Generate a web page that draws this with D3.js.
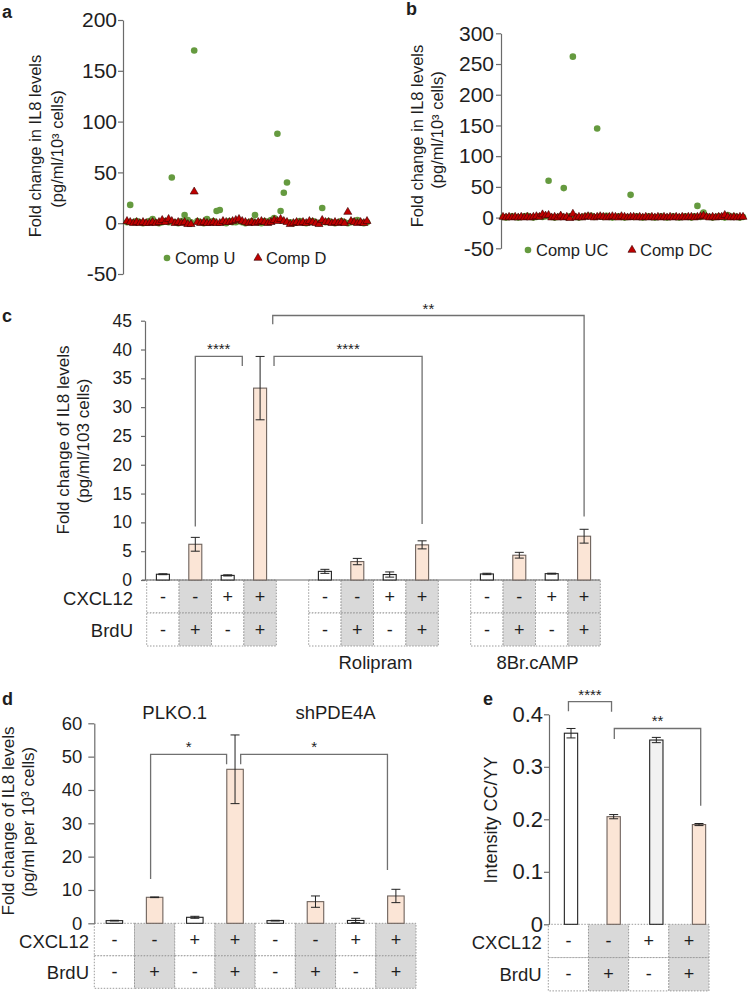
<!DOCTYPE html>
<html><head><meta charset="utf-8">
<script src="https://cdn.jsdelivr.net/npm/d3@7"></script>
<style>
body{margin:0;background:#fff;}
svg text{font-family:"Liberation Sans",Arial,Helvetica,sans-serif;fill:#1e1e1e;}
</style></head><body>
<script>
// ---------- DATA ----------
// Panel a (scatter, Comp U / Comp D)
const aTicks=[-50,0,50,100,150,200];
const aCompU=[1,18,1,2,1,0,1,2,4,1,0,1,2,1,45,1,0,2,8,3,1,170,2,1,0,4,1,2,12,13,1,0,2,1,1,2,1,0,1,2,8,1,0,2,1,3,5,88,12,30,40,1,0,1,2,1,0,1,2,1,0,15,1,2,1,0,1,2,1,0,1,2,3,1,0,1];
const aCompD=[2,1,0,1,0,1,0,0,1,0,1,3,1,4,2,0,1,0,1,-1,-1,31,1,0,1,0,0,1,0,0,2,1,1,2,3,4,2,1,0,1,0,1,2,1,0,1,3,2,4,2,1,-1,0,1,0,1,0,2,1,0,-1,3,1,1,0,1,0,1,0,11,2,1,0,1,0,2];
const aLegend=["Comp U","Comp D"];
// Panel b
const bTicks=[-50,0,50,100,150,200,250,300];
const bCompU=[1,0,1,2,1,0,1,2,3,1,0,1,2,1,2,60,1,0,1,2,48,1,2,262,1,0,1,2,3,3,1,145,2,1,3,1,0,1,2,1,0,1,37,1,2,1,0,1,2,1,0,1,2,1,0,1,2,1,0,1,2,1,0,2,19,1,8,2,1,0,1,2,1,0,4,1,2,1,0,1];
const bCompD=[1,0,1,0,1,0,1,0,1,0,1,2,1,5,3,4,0,1,0,3,0,1,-1,6,0,1,0,1,2,1,0,1,2,1,0,1,2,1,0,2,1,0,1,1,0,1,0,1,0,1,0,1,0,1,0,1,0,1,0,1,0,1,1,0,1,2,3,1,0,1,0,1,1,4,1,0,1,0,1,1];
const bLegend=["Comp UC","Comp DC"];
// Panel c
const cTicks=[0,5,10,15,20,25,30,35,40,45];
const cValues=[1.0,6.2,0.8,33.3, 1.5,3.2,0.95,6.1, 1.05,4.3,1.1,7.6];
const cErrors=[0.08,1.2,0.1,5.5, 0.35,0.55,0.45,0.7, 0.12,0.5,0.08,1.2];
const cCXCL12=["-","-","+","+","-","-","+","+","-","-","+","+"];
const cBrdU=["-","+","-","+","-","+","-","+","-","+","-","+"];
const cGroups=["","Rolipram","8Br.cAMP"];
const cSig=[
  {x1:1.5,y1:9.3,top:38.8,x2:2.95,y2:37.15,label:"****"},
  {x1:3.93,y1:37.15,top:38.8,x2:8.5,y2:9.7,label:"****"},
  {x1:3.89,y1:44.4,top:45.9,x2:13.5,y2:11.0,label:"**"}
];
// Panel d
const dTicks=[0,10,20,30,40,50,60];
const dValues=[0.8,7.8,1.8,46.2,0.8,6.5,0.85,8.2];
const dErrors=[0.1,0.1,0.3,10.3,0.1,1.7,0.65,2.0];
const dCXCL12=["-","-","+","+","-","-","+","+"];
const dBrdU=["-","+","-","+","-","+","-","+"];
const dGroups=["PLKO.1","shPDE4A"];
const dSig=[
  {x1:1.40,y1:13.3,top:50.7,x2:3.29,y2:47.7,label:"*"},
  {x1:3.64,y1:47.7,top:50.7,x2:7.29,y2:16.0,label:"*"}
];
// Panel e
const eTicks=[0,0.1,0.2,0.3,0.4];
const eValues=[0.364,0.205,0.351,0.190];
const eErrors=[0.009,0.004,0.005,0.002];
const eCXCL12=["-","-","+","+"];
const eBrdU=["-","+","-","+"];
const eSig=[
  {x1:-0.06,y1:0.406,top:0.424,x2:0.95,y2:0.405,label:"****"},
  {x1:1.015,y1:0.353,top:0.373,x2:3.04,y2:0.226,label:"**"}
];

// ---------- STYLE ----------
const GREEN="#659A3F", RED="#C00000", ORANGE="#FBE5D6", SHADE="#D9D9D9", AXIS="#6b6b6b";
const svg=d3.select("body").append("svg").attr("width",750).attr("height",994);

function letter(x,y,t){svg.append("text").attr("x",x).attr("y",y).attr("font-size",18).attr("font-weight","bold").attr("fill","#000").text(t);}
function vlabel(x,y,t,fs){svg.append("text").attr("transform",`translate(${x},${y}) rotate(-90)`).attr("text-anchor","middle").attr("font-size",fs).text(t);}
function yAxis(x,scale,ticks,fs,len,pad,fmt){
  const g=svg.append("g").attr("transform",`translate(${x},0)`)
    .call(d3.axisLeft(scale).tickValues(ticks).tickSize(len).tickSizeOuter(0).tickPadding(pad).tickFormat(fmt||(d=>d)));
  g.select(".domain").attr("stroke",AXIS).attr("stroke-width",1.2);
  g.selectAll(".tick line").attr("stroke",AXIS).attr("stroke-width",1.2);
  g.selectAll(".tick text").attr("font-size",fs).attr("fill","#333");
  return g;
}
const tri=d3.symbol().type(d3.symbolTriangle).size(28);

function scatterPanel(U,D,yscale,xr,legend,leg){
  const x=d3.scaleLinear().domain([0,U.length-1]).range(xr);
  svg.append("g").selectAll("circle").data(U).join("circle")
    .attr("cx",(d,i)=>x(i)).attr("cy",d=>yscale(d)).attr("r",3.3).attr("fill",GREEN);
  svg.append("g").selectAll("path").data(D).join("path")
    .attr("d",tri).attr("transform",(d,i)=>`translate(${x(i)},${yscale(d)})`)
    .attr("fill",RED).attr("stroke","#3a0000").attr("stroke-width",0.6);
  svg.append("circle").attr("cx",leg[0]).attr("cy",leg[2]).attr("r",3.3).attr("fill",GREEN);
  svg.append("text").attr("x",leg[0]+8).attr("y",leg[2]+6).attr("font-size",16.5).text(legend[0]);
  svg.append("path").attr("d",tri).attr("transform",`translate(${leg[1]},${leg[2]})`).attr("fill",RED).attr("stroke","#3a0000").attr("stroke-width",0.6);
  svg.append("text").attr("x",leg[1]+8).attr("y",leg[2]+6).attr("font-size",16.5).text(legend[1]);
}

// ---------- PANEL A ----------
letter(2,18,"a");
const aY=d3.scaleLinear().domain([-50,200]).range([274,20]);
yAxis(123,aY,aTicks,21,5,1);
vlabel(41,146,"Fold change in IL8 levels",16.5);
vlabel(63,149,"(pg/ml/10³ cells)",16.5);
scatterPanel(aCompU,aCompD,aY,[127,367],aLegend,[167,258,258]);

// ---------- PANEL B ----------
letter(406,15,"b");
const bY=d3.scaleLinear().domain([-50,300]).range([248.3,33.3]);
yAxis(501,bY,bTicks,21,5,2);
vlabel(423,136,"Fold change in IL8 levels",16.5);
vlabel(443,130,"(pg/ml/10³ cells)",16.5);
scatterPanel(bCompU,bCompD,bY,[503,743],bLegend,[528,632,250]);

// ---------- shared bar helpers ----------
function bars(xc,yscale,vals,errs,w,fillFn,strokeFn){
  const g=svg.append("g");
  g.selectAll("rect").data(vals).join("rect")
    .attr("x",(d,i)=>xc(i)-w/2).attr("y",d=>yscale(d)).attr("width",w)
    .attr("height",d=>yscale(0)-yscale(d)).attr("fill",(d,i)=>fillFn(i)).attr("stroke",(d,i)=>strokeFn(i)).attr("stroke-width",1.1);
  const eb=g.selectAll("g.eb").data(vals).join("g");
  eb.append("line").attr("x1",(d,i)=>xc(i)).attr("x2",(d,i)=>xc(i))
    .attr("y1",(d,i)=>yscale(d-errs[i])).attr("y2",(d,i)=>yscale(d+errs[i])).attr("stroke","#222");
  [1,-1].forEach(s=>eb.append("line").attr("x1",(d,i)=>xc(i)-4.5).attr("x2",(d,i)=>xc(i)+4.5)
    .attr("y1",(d,i)=>yscale(d+s*errs[i])).attr("y2",(d,i)=>yscale(d+s*errs[i])).attr("stroke","#222"));
}
function sigs(list,xs,ys,fs){
  list.forEach(s=>{
    svg.append("path").attr("d",`M${xs(s.x1)},${ys(s.y1)}V${ys(s.top)}H${xs(s.x2)}V${ys(s.y2)}`)
      .attr("fill","none").attr("stroke","#707070").attr("stroke-width",1.3);
    svg.append("text").attr("x",(xs(s.x1)+xs(s.x2))/2).attr("y",ys(s.top)-2).attr("text-anchor","middle")
      .attr("font-size",fs).text(s.label);
  });
}
function tableCells(xLeft,cellW,y0,rowH,cx,br,labelFs){
  const g=svg.append("g");
  [cx,br].forEach((row,r)=>{
    row.forEach((v,i)=>{
      g.append("rect").attr("x",xLeft(i)).attr("y",y0+r*rowH).attr("width",cellW).attr("height",rowH)
        .attr("fill",br[i]==="+"?SHADE:"#fff").attr("stroke","#9a9a9a").attr("stroke-width",1).attr("stroke-dasharray","1.5,1.5");
      g.append("text").attr("x",xLeft(i)+cellW/2).attr("y",y0+r*rowH+rowH/2+6).attr("text-anchor","middle")
        .attr("font-size",labelFs).text(v==="-"?"-":"+");
    });
  });
}
function rowLabels(xr,y0,rowH){
  svg.append("text").attr("x",xr).attr("y",y0+rowH/2+8).attr("text-anchor","end").attr("font-size",18.5).text("CXCL12");
  svg.append("text").attr("x",xr).attr("y",y0+rowH*1.5+7).attr("text-anchor","end").attr("font-size",18.5).text("BrdU");
}

// ---------- PANEL C ----------
letter(2,322,"c");
const cY=d3.scaleLinear().domain([0,45]).range([580,320.7]);
const cSlot=d3.scaleLinear().domain([0,14]).range([146.7,600.3]);
const cStep=cSlot(1)-cSlot(0);
const cSlotOf=i=>i+Math.floor(i/4);
const cX=i=>cSlot(cSlotOf(i)+0.5);
tableCells(i=>cSlot(cSlotOf(i)),cStep,580,33,cCXCL12,cBrdU,18);
svg.append("line").attr("x1",142).attr("x2",600.3).attr("y1",580).attr("y2",580).attr("stroke",AXIS).attr("stroke-width",1.2);
yAxis(145,cY,cTicks,17.5,4,9);
vlabel(69,440,"Fold change of IL8 levels",17);
vlabel(89,441,"(pg/ml/103 cells)",17);
bars(cX,cY,cValues,cErrors,13,i=>cBrdU[i]==="+"?ORANGE:"#fff",i=>cBrdU[i]==="+"?"#6e625c":"#222");
sigs(cSig,v=>cSlot(v),cY,15);
rowLabels(133,580,33);
cGroups.forEach((t,gi)=>{ if(t) svg.append("text").attr("x",(cSlot(gi*5)+cSlot(gi*5+4))/2+2).attr("y",669).attr("text-anchor","middle").attr("font-size",18.5).text(t);});

// ---------- PANEL D ----------
letter(2,705,"d");
const dY=d3.scaleLinear().domain([0,60]).range([923.3,723.3]);
const dSlot=d3.scaleLinear().domain([0,8]).range([94.3,416]);
const dStep=dSlot(1)-dSlot(0);
const dX=i=>dSlot(i+0.5);
tableCells(i=>dSlot(i),dStep,923.3,32.5,dCXCL12,dBrdU,18);
yAxis(94.3,dY,dTicks,18.5,6,6);
vlabel(14,821,"Fold change of IL8 levels",17);
vlabel(34,822,"(pg/ml per 10³ cells)",17);
bars(dX,dY,dValues,dErrors,16.5,i=>dBrdU[i]==="+"?ORANGE:"#fff",i=>dBrdU[i]==="+"?"#6e625c":"#222");
sigs(dSig,v=>dSlot(v),dY,15);
rowLabels(89,923.3,32.5);
dGroups.forEach((t,gi)=>svg.append("text").attr("x",(dSlot(gi*4)+dSlot(gi*4+4))/2).attr("y",719).attr("text-anchor","middle").attr("font-size",18.5).text(t));

// ---------- PANEL E ----------
letter(483,705,"e");
const eY=d3.scaleLinear().domain([0,0.4]).range([924.3,714.3]);
const eCell=d3.scaleLinear().domain([0,4]).range([548.3,709]);
const eStep=eCell(1)-eCell(0);
const eX=d3.scaleLinear().domain([0,3]).range([571,699]);
tableCells(i=>eCell(i),eStep,924.3,33.3,eCXCL12,eBrdU,18);
yAxis(549,eY,eTicks,22,5,1,d=>d===0?"0":d3.format(".1f")(d));
vlabel(497,820,"Intensity CC/YY",18);
bars(eX,eY,eValues,eErrors,13.3,i=>eBrdU[i]==="+"?ORANGE:(eCXCL12[i]==="+"?"#F2F2F2":"#fff"),i=>eBrdU[i]==="+"?"#6e625c":"#222");
sigs(eSig,eX,eY,15);
rowLabels(541.7,924.3,33.3);
</script>
</body></html>
